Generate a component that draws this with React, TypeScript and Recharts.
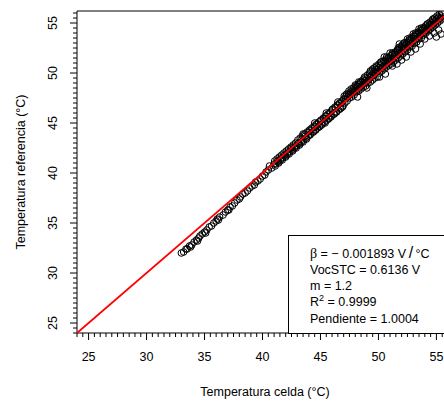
import {
    ScatterChart,
    Scatter,
    XAxis,
    YAxis,
    ReferenceLine,
} from 'recharts';

// temperatura celda (x) / temperatura referencia (y)
const celdaBaja = [
    33.0, 33.2, 33.4, 33.5, 33.7, 33.9, 34.1, 34.3, 34.5, 34.6,
    34.8, 35.0, 35.2, 35.4, 35.6, 35.8, 36.0, 36.1, 36.3, 36.6,
    36.8, 37.0, 37.2, 37.4, 37.6, 37.8, 38.0, 38.1, 38.3, 38.5,
    38.7, 38.9, 39.1, 39.3, 39.4, 39.6, 39.8, 40.0, 40.2, 40.3,
    33.8, 34.4, 35.1, 36.2, 37.1,
];
const refBaja = [
    32.0, 32.1, 32.4, 32.4, 32.7, 32.8, 33.1, 33.3, 33.5, 33.7,
    33.9, 34.1, 34.3, 34.6, 34.7, 35.0, 35.2, 35.4, 35.6, 35.8,
    36.1, 36.3, 36.6, 36.7, 37.0, 37.3, 37.4, 37.6, 37.9, 38.0,
    38.2, 38.5, 38.7, 38.8, 39.1, 39.2, 39.4, 39.7, 39.8, 40.1,
    32.6, 33.2, 34.0, 35.3, 36.3,
];

const celdaMedia = [
    40.5, 40.6, 40.8, 41.0, 41.1, 41.3, 41.4, 41.6, 41.7, 41.9,
    42.0, 42.2, 42.3, 42.5, 42.6, 42.8, 42.9, 43.1, 43.2, 43.4,
    43.5, 43.7, 43.8, 44.0, 44.1, 44.2, 44.4, 44.5, 44.6, 44.8,
    44.9, 45.0, 45.1, 45.3, 45.4, 45.5, 45.7, 45.8, 45.9, 46.0,
    46.2, 46.3, 46.4, 46.5, 46.7, 46.8, 46.9,
];
const refMedia = [
    40.3, 40.7, 40.5, 40.9, 40.7, 41.2, 41.0, 41.5, 41.3, 41.8,
    41.6, 42.1, 41.9, 42.5, 42.2, 42.7, 42.5, 43.0, 42.8, 43.4,
    43.1, 43.7, 43.4, 44.1, 43.8, 44.3, 44.1, 44.6, 44.3, 44.9,
    44.6, 45.2, 44.8, 45.4, 45.0, 45.7, 45.4, 46.0, 45.6, 46.3,
    45.9, 46.5, 46.1, 46.8, 46.4, 47.0, 46.6,
];

const celdaMedia2 = [
    41.05, 41.15, 41.25, 41.35, 41.45, 41.55, 41.65, 41.75, 41.85, 41.95,
    42.05, 42.15, 42.25, 42.35, 42.45, 42.55, 42.65, 42.75, 42.85, 42.95,
    43.05, 43.15, 43.25, 43.35, 43.45, 43.55, 43.65, 43.75, 43.85, 43.95,
    44.05, 44.15, 44.25, 44.35, 44.45, 44.55, 44.65, 44.75, 44.85, 44.95,
    45.05, 45.15, 45.25, 45.35, 45.45, 45.55, 45.65, 45.75, 45.85, 45.95,
    46.05, 46.15, 46.25, 46.35, 46.45, 46.55, 46.65, 46.75, 46.85, 46.95,
];
const refMedia2 = [
    41.2, 40.9, 41.4, 41.1, 41.6, 41.3, 41.8, 41.5, 42.0, 41.7,
    42.2, 41.9, 42.4, 42.1, 42.6, 42.3, 42.8, 42.5, 43.0, 42.7,
    43.3, 42.9, 43.5, 43.1, 43.7, 43.3, 43.9, 43.5, 44.1, 43.7,
    44.3, 43.9, 44.5, 44.1, 44.7, 44.3, 44.9, 44.5, 45.1, 44.7,
    45.3, 44.9, 45.5, 45.1, 45.7, 45.3, 45.9, 45.5, 46.1, 45.7,
    46.4, 45.9, 46.6, 46.1, 46.8, 46.3, 47.0, 46.5, 47.2, 46.7,
];

const celdaAlta = [
    47.0, 47.1, 47.2, 47.3, 47.4, 47.5, 47.6, 47.7, 47.8, 47.9,
    48.0, 48.1, 48.2, 48.3, 48.4, 48.5, 48.6, 48.7, 48.8, 48.9,
    49.0, 49.1, 49.2, 49.3, 49.4, 49.5, 49.6, 49.7, 49.8, 49.9,
    50.0, 50.1, 50.2, 50.3, 50.4, 50.5, 50.6, 50.7, 50.8, 50.9,
    51.0, 51.1, 51.2, 51.3, 51.4, 51.5, 51.6, 51.7, 51.8, 51.9,
    52.0, 52.1, 52.2, 52.3, 52.4, 52.5, 52.6, 52.7, 52.8, 52.9,
    53.0, 53.1, 53.2, 53.3, 53.4, 53.5, 53.6, 53.7, 53.8, 53.9,
    54.0, 54.1, 54.2, 54.3, 54.4, 54.5, 54.6, 54.7, 54.8, 54.9,
    55.0, 55.1, 55.2, 55.3, 55.4, 55.5,
];
const refAlta = [
    47.4, 47.0, 47.7, 47.2, 47.9, 47.5, 48.1, 47.6, 48.3, 47.8,
    48.5, 48.1, 48.7, 48.2, 48.9, 48.4, 49.1, 48.6, 49.2, 48.7,
    49.4, 49.0, 49.6, 49.1, 49.8, 49.3, 50.1, 49.5, 50.3, 49.6,
    50.5, 50.0, 50.8, 50.2, 51.0, 50.4, 51.2, 50.6, 51.3, 50.8,
    51.5, 50.9, 51.8, 51.1, 51.9, 51.3, 52.2, 51.5, 52.4, 51.7,
    52.6, 51.9, 52.7, 52.1, 52.9, 52.3, 53.1, 52.6, 53.3, 52.7,
    53.5, 53.0, 53.7, 53.1, 53.9, 53.4, 54.0, 53.5, 54.3, 53.8,
    54.5, 54.0, 54.6, 54.2, 54.8, 54.4, 55.0, 54.6, 55.2, 54.8,
    55.4, 55.0, 55.6, 55.2, 55.7, 55.4,
];

const celdaAlta2 = [
    47.05, 47.15, 47.25, 47.35, 47.45, 47.55, 47.65, 47.75, 47.85, 47.95,
    48.05, 48.15, 48.25, 48.35, 48.45, 48.55, 48.65, 48.75, 48.85, 48.95,
    49.05, 49.15, 49.25, 49.35, 49.45, 49.55, 49.65, 49.75, 49.85, 49.95,
    50.05, 50.15, 50.25, 50.35, 50.45, 50.55, 50.65, 50.75, 50.85, 50.95,
    51.05, 51.15, 51.25, 51.35, 51.45, 51.55, 51.65, 51.75, 51.85, 51.95,
    52.05, 52.15, 52.25, 52.35, 52.45, 52.55, 52.65, 52.75, 52.85, 52.95,
    53.05, 53.15, 53.25, 53.35, 53.45, 53.55, 53.65, 53.75, 53.85, 53.95,
    54.05, 54.15, 54.25, 54.35, 54.45, 54.55, 54.65, 54.75, 54.85, 54.95,
    55.05, 55.15, 55.25, 55.35, 55.45,
];
const refAlta2 = [
    47.7, 47.4, 47.9, 47.6, 48.2, 47.8, 48.4, 48.0, 48.5, 48.2,
    48.7, 48.3, 48.9, 48.5, 49.1, 48.7, 49.3, 48.9, 49.5, 49.1,
    49.8, 49.3, 50.0, 49.6, 50.2, 49.8, 50.5, 50.0, 50.6, 50.2,
    50.9, 50.4, 51.1, 50.6, 51.2, 50.7, 51.4, 50.9, 51.5, 51.1,
    51.7, 51.3, 51.9, 51.5, 52.1, 51.7, 52.3, 51.9, 52.6, 52.1,
    52.8, 52.3, 53.0, 52.5, 53.1, 52.7, 53.3, 52.9, 53.5, 53.1,
    53.7, 53.3, 53.9, 53.5, 54.1, 53.7, 54.3, 53.9, 54.5, 54.1,
    54.7, 54.3, 54.9, 54.5, 55.1, 54.7, 55.3, 54.9, 55.5, 55.1,
    55.7, 55.3, 55.9, 55.5, 56.0,
];

const celdaBorde = [
    48.3, 48.8, 49.3, 49.8, 50.2, 50.7, 51.2, 51.7, 52.2, 52.7,
    53.2, 53.7, 54.2, 54.7, 43.5, 44.5, 45.5, 46.5,
];
const refBorde = [
    49.1, 49.6, 50.2, 50.7, 51.1, 51.6, 52.0, 52.5, 53.0, 53.5,
    54.0, 54.5, 54.9, 55.4, 43.9, 45.0, 46.0, 47.1,
];

const celdaDispersa = [
    48.2, 49.0, 50.1, 50.6, 51.2, 51.6, 52.0, 52.4, 52.8, 53.2,
    53.6, 54.0, 54.4, 54.8, 55.2, 55.4, 55.0, 50.5, 51.0, 51.8,
    52.5, 53.0, 53.5, 48.0, 49.5, 55.5,
];
const refDispersa = [
    47.6, 48.5, 49.6, 49.9, 50.7, 50.9, 51.3, 51.6, 52.1, 52.4,
    52.9, 53.4, 53.7, 54.0, 54.3, 53.9, 53.6, 51.6, 52.0, 52.9,
    53.4, 53.9, 54.4, 48.8, 50.4, 56.0,
];

// recta de ajuste
const ajusteX = [24, 56];
const ajusteY = [24, 56.01];

const ticksX = Array.from({ length: 65 }, (_, i) => 24 + i * 0.5);
const ticksY = Array.from({ length: 65 }, (_, i) => 24 + i * 0.5);

const beta = '0.001893';
const vocSTC = '0.6136';
const mFactor = '1.2';
const r2 = '0.9999';
const pendiente = '1.0004';

const FONT = '"Liberation Sans", Arial, sans-serif';

const unir = (xs: number[], ys: number[]) => xs.map((x, i) => ({ x, y: ys[i] }));

const puntos = [
    ...unir(celdaBaja, refBaja),
    ...unir(celdaMedia, refMedia),
    ...unir(celdaMedia2, refMedia2),
    ...unir(celdaAlta, refAlta),
    ...unir(celdaAlta2, refAlta2),
    ...unir(celdaBorde, refBorde),
    ...unir(celdaDispersa, refDispersa),
];
const recta = unir(ajusteX, ajusteY);

const XTick = (props: any) => {
    const { x, y, payload } = props;
    const major = payload.value % 5 === 0;
    return (
        <g>
            <line x1={x} y1={y} x2={x} y2={y + (major ? 7 : 4)} stroke="#000" strokeWidth={1} />
            {major && (
                <text x={x} y={y + 24} textAnchor="middle" dominantBaseline="central"
                    fontSize={12.5} fontFamily={FONT} fill="#000">
                    {payload.value}
                </text>
            )}
        </g>
    );
};

const YTick = (props: any) => {
    const { x, y, payload } = props;
    const major = payload.value % 5 === 0;
    return (
        <g>
            <line x1={x - (major ? 7 : 4)} y1={y} x2={x} y2={y} stroke="#000" strokeWidth={1} />
            {major && (
                <text x={x - 24} y={y} textAnchor="middle" dominantBaseline="central"
                    fontSize={12.5} fontFamily={FONT} fill="#000"
                    transform={`rotate(-90 ${x - 24} ${y})`}>
                    {payload.value}
                </text>
            )}
        </g>
    );
};

const Circulo = (props: any) => (
    <circle cx={props.cx} cy={props.cy} r={3.3} fill="none" stroke="#000" strokeWidth={1} />
);

const Nada = () => <g />;

export default function App() {
    return (
        <div style={{ position: 'absolute', left: 0, top: 0, width: 444, height: 401, overflow: 'hidden', background: '#fff' }}>
            <ScatterChart width={448} height={401} margin={{ top: 11, right: 0, bottom: 0, left: 0 }}>
                <XAxis type="number" dataKey="x" domain={[24, 56]} ticks={ticksX} interval={0}
                    height={68} tickSize={0} tickMargin={0} tickLine={false}
                    axisLine={{ stroke: '#000' }} tick={<XTick />} allowDataOverflow />
                <YAxis type="number" dataKey="y" domain={[24, 56.2]} ticks={ticksY} interval={0}
                    width={77} tickSize={0} tickMargin={0} tickLine={false}
                    axisLine={{ stroke: '#000' }} tick={<YTick />} allowDataOverflow />
                <ReferenceLine y={56.2} stroke="#000" strokeWidth={1} />
                <Scatter data={puntos} shape={<Circulo />} isAnimationActive={false} />
                <Scatter data={recta} shape={<Nada />} line={{ stroke: '#ff0000', strokeWidth: 1.8 }}
                    isAnimationActive={false} />
            </ScatterChart>

            <div style={{
                position: 'absolute', left: 288, top: 235, width: 200, height: 99,
                boxSizing: 'border-box', border: '1px solid #000', background: '#fff',
                paddingLeft: 21, paddingTop: 9, fontFamily: FONT, fontSize: 12.5,
                lineHeight: '16px', color: '#000', whiteSpace: 'nowrap',
            }}>
                <div>
                    <span style={{ fontFamily: '"Liberation Serif", serif', fontSize: 14 }}>β</span>
                    {' = − '}{beta}{' V\u2009'}<span style={{ fontSize: 16, fontWeight: 300 }}>/</span>{'\u2009°C'}
                </div>
                <div>{'VocSTC = '}{vocSTC}{' V'}</div>
                <div>{'m = '}{mFactor}</div>
                <div>
                    R<span style={{ fontSize: 9, position: 'relative', top: -5 }}>2</span>{' = '}{r2}
                </div>
                <div>{'Pendiente = '}{pendiente}</div>
            </div>

            <div style={{
                position: 'absolute', left: 265, top: 392, transform: 'translate(-50%, -50%)',
                fontFamily: FONT, fontSize: 12.5, whiteSpace: 'nowrap', color: '#000',
            }}>
                Temperatura celda (°C)
            </div>
            <div style={{
                position: 'absolute', left: 21, top: 172, transform: 'translate(-50%, -50%) rotate(-90deg)',
                fontFamily: FONT, fontSize: 12.5, whiteSpace: 'nowrap', color: '#000',
            }}>
                Temperatura referencia (°C)
            </div>
        </div>
    );
}
